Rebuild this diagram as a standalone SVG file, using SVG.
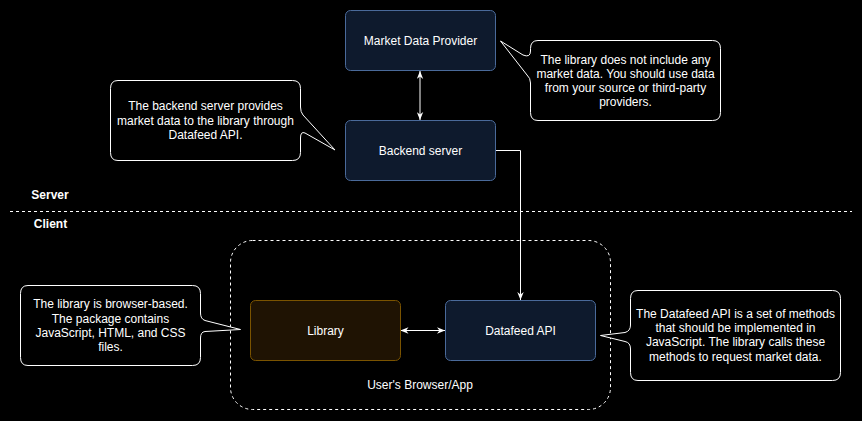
<svg xmlns="http://www.w3.org/2000/svg" width="862" height="421" viewBox="0 0 862 421">
<defs>
<style>
text{font-family:"Liberation Sans",Arial,sans-serif;font-size:12px;fill:#ffffff;text-anchor:middle}
.bold{font-weight:bold}
.node{fill:#0e1a2d;stroke:#4a6a9a;stroke-width:1}
.lib{fill:#1f1303;stroke:#7a5300;stroke-width:1}
.callout{fill:#000000;stroke:#ffffff;stroke-width:1}
.edge{fill:none;stroke:#ffffff;stroke-width:1}
.dash{fill:none;stroke:#ffffff;stroke-width:1;stroke-dasharray:3 3}
</style>
<marker id="arr" viewBox="0 0 10 8" refX="10" refY="4" markerWidth="8" markerHeight="7" markerUnits="userSpaceOnUse" orient="auto-start-reverse">
<path d="M0,0 L10,4 L0,8 L3,4 Z" fill="#ffffff"/>
</marker>
</defs>
<rect width="862" height="421" fill="#000000"/>

<g id="separator">
<line class="dash" x1="10" y1="211.5" x2="852" y2="211.5"/>
<text class="bold" x="50" y="199">Server</text>
<text class="bold" x="50.5" y="228">Client</text>
</g>

<g id="browser-container">
<rect class="dash" x="230.5" y="240.5" width="380" height="169" rx="22" ry="22"/>
<text x="420" y="389">User's Browser/App</text>
</g>

<g id="connectors">
<line class="edge" x1="420" y1="71" x2="420" y2="120" marker-start="url(#arr)" marker-end="url(#arr)"/>
<path class="edge" d="M495.5,150.5 H520.5 V300" marker-end="url(#arr)"/>
<line class="edge" x1="400.5" y1="330.5" x2="445" y2="330.5" marker-start="url(#arr)" marker-end="url(#arr)"/>
</g>

<g id="market-data-provider">
<rect class="node" x="345.5" y="10.5" width="150" height="60" rx="5" ry="5"/>
<text x="420.5" y="44.5">Market Data Provider</text>
</g>

<g id="backend-server">
<rect class="node" x="345.5" y="120.5" width="150" height="60" rx="5" ry="5"/>
<text x="420.5" y="154.5">Backend server</text>
</g>

<g id="library">
<rect class="lib" x="250.5" y="300.5" width="150" height="60" rx="5" ry="5"/>
<text x="325.5" y="334.5">Library</text>
</g>

<g id="datafeed-api">
<rect class="node" x="445.5" y="300.5" width="150" height="60" rx="5" ry="5"/>
<text x="520.5" y="334.5">Datafeed API</text>
</g>

<g id="callout-provider">
<path class="callout" d="M538,40.5 H712.5 Q720.5,40.5 720.5,48.5 V112.5 Q720.5,120.5 712.5,120.5 H538 Q530.5,120.5 530.5,112.5 V83 Q530.5,78 527,75 L500.5,41 L523,55 Q530.5,58 530.5,51 V48.5 Q530.5,40.5 538,40.5 Z"/>
<text x="625.5" y="63.5">The library does not include any</text>
<text x="625.5" y="77.5">market data. You should use data</text>
<text x="625.5" y="92">from your source or third-party</text>
<text x="625.5" y="106">providers.</text>
</g>

<g id="callout-backend">
<path class="callout" d="M118,80.5 H292.5 Q300.5,80.5 300.5,88.5 V107 Q300.5,112 303,115 L335,150 L305,133 Q300.5,131 300.5,138 V152.5 Q300.5,160.5 292.5,160.5 H118 Q110.5,160.5 110.5,152.5 V88.5 Q110.5,80.5 118,80.5 Z"/>
<text x="205.5" y="110">The backend server provides</text>
<text x="205.5" y="124.5">market data to the library through</text>
<text x="205.5" y="139">Datafeed API.</text>
</g>

<g id="callout-library">
<path class="callout" d="M28,285.5 H192.5 Q200.5,285.5 200.5,293.5 V313 Q200.5,319 205,320.5 L240.5,329.5 L205,331.5 Q200.5,332 200.5,338 V357.5 Q200.5,365.5 192.5,365.5 H28 Q20.5,365.5 20.5,357.5 V293.5 Q20.5,285.5 28,285.5 Z"/>
<text x="110.5" y="308.3">The library is browser-based.</text>
<text x="110.5" y="322.6">The package contains</text>
<text x="110.5" y="337">JavaScript, HTML, and CSS</text>
<text x="110.5" y="351.3">files.</text>
</g>

<g id="callout-datafeed">
<path class="callout" d="M638,290.5 H832.5 Q840.5,290.5 840.5,298.5 V372.5 Q840.5,380.5 832.5,380.5 H638 Q630.5,380.5 630.5,372.5 V349 Q630.5,342.5 625,341.5 L600.5,335.5 L625,332.5 Q630.5,331 630.5,325 V298.5 Q630.5,290.5 638,290.5 Z"/>
<text x="735.5" y="317.6">The Datafeed API is a set of methods</text>
<text x="735.5" y="332">that should be implemented in</text>
<text x="735.5" y="346.4">JavaScript. The library calls these</text>
<text x="735.5" y="360.8">methods to request market data.</text>
</g>
</svg>
